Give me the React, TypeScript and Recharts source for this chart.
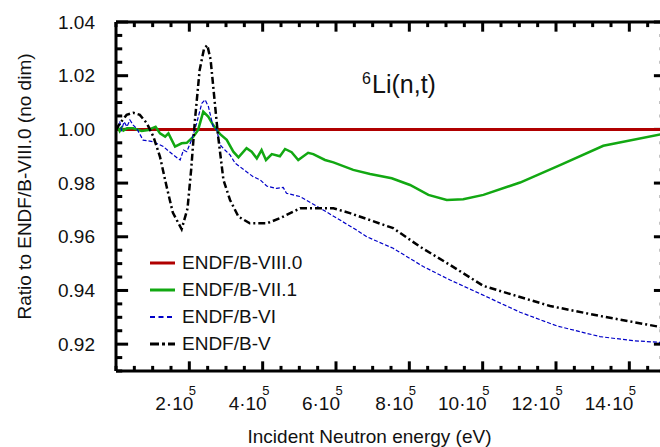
import React from 'react';
import { LineChart, Line, XAxis, YAxis, Legend, ReferenceLine } from 'recharts';

// energies in eV, ratios to ENDF/B-VIII.0
const energyB8 = [0, 250000, 500000, 1000000, 1500000];
const ratioB8 = [1.0, 1.0, 1.0, 1.0, 1.0];

const energyB71 = [
  0, 5000, 10000, 15000, 20000, 30000, 47000, 70000, 88000, 108000, 120000, 134000, 143000,
  161000, 179000, 193000, 211000, 224000, 238000, 252000, 265000, 284000, 302000, 320000,
  334000, 356000, 370000, 384000, 397000, 409000, 425000, 447000, 461000, 479000, 497000,
  524000, 538000, 570000, 593000, 647000, 693000, 752000, 802000, 852000, 902000, 947000,
  1002000, 1102000, 1211000, 1329000, 1500000,
];
const ratioB71 = [
  1.0, 1.0008, 0.9994, 1.0006, 0.9996, 1.0004, 1.0004, 0.9994, 0.9998, 1.001, 0.9985, 0.9973,
  0.9985, 0.9936, 0.9948, 0.995, 0.9973, 0.9998, 1.0066, 1.0047, 1.0016, 0.9982, 0.9961,
  0.9917, 0.9896, 0.993, 0.9917, 0.9892, 0.9923, 0.9886, 0.9908, 0.99, 0.9927, 0.9915,
  0.9886, 0.9913, 0.9908, 0.9886, 0.9877, 0.9849, 0.9834, 0.9818, 0.9793, 0.9756, 0.9737,
  0.974, 0.9756, 0.9802, 0.9867, 0.9939, 0.9985,
];

const energyB6 = [
  0, 5000, 10000, 15000, 22000, 30000, 38000, 47000, 56000, 74000, 102000, 129000, 156000,
  175000, 184000, 193000, 206000, 220000, 234000, 243000, 252000, 265000, 275000, 284000,
  297000, 311000, 325000, 338000, 356000, 374000, 393000, 411000, 438000, 456000, 465000,
  502000, 565000, 656000, 684000, 756000, 838000, 911000, 1010000, 1102000, 1202000,
  1320000, 1410000, 1500000,
];
const ratioB6 = [
  1.0023, 1.0005, 1.003, 0.9998, 1.0028, 1.001, 1.0035, 1.0016, 1.0004, 0.996, 0.9954,
  0.9936, 0.9905, 0.9886, 0.9923, 0.9917, 0.996, 1.0023, 1.0097, 1.011, 1.0085, 1.001,
  0.9998, 0.9942, 0.9923, 0.9905, 0.9874, 0.9861, 0.9842, 0.9824, 0.9812, 0.9789, 0.978,
  0.9784, 0.9762, 0.975, 0.97, 0.9625, 0.96, 0.9557, 0.9489, 0.9439, 0.9377, 0.9319, 0.9268,
  0.9228, 0.9213, 0.9205,
];

const energyB5 = [
  0, 11000, 29000, 47000, 65000, 84000, 102000, 120000, 138000, 155000, 179000, 195000,
  205000, 215000, 228000, 240000, 249000, 258000, 268000, 278000, 293000, 311000, 334000,
  365000, 411000, 447000, 475000, 502000, 593000, 638000, 756000, 829000, 911000, 1002000,
  1084000, 1184000, 1320000, 1500000,
];
const ratioB5 = [
  0.9998, 1.0023, 1.0054, 1.0062, 1.0054, 1.0023, 0.9973, 0.9898, 0.9787, 0.969, 0.9628,
  0.9705, 0.985, 1.003, 1.022, 1.03, 1.0314, 1.026, 1.012, 0.998, 0.9812, 0.9737, 0.9675,
  0.965, 0.965, 0.9669, 0.9688, 0.9706, 0.9706, 0.9688, 0.9632, 0.9563, 0.9495, 0.9417,
  0.9383, 0.9342, 0.9305, 0.926,
];

const xMajorTicks = [200000, 400000, 600000, 800000, 1000000, 1200000, 1400000];
const xTickLabels = ['2·10', '4·10', '6·10', '8·10', '10·10', '12·10', '14·10'];
const xTickExponent = '5';
const yMajorTicks = [0.92, 0.94, 0.96, 0.98, 1.0, 1.02, 1.04];
const yTickLabels = ['0.92', '0.94', '0.96', '0.98', '1.00', '1.02', '1.04'];

const X_DOMAIN: [number, number] = [0, 1500000];
const Y_DOMAIN: [number, number] = [0.91, 1.04];

const xMinorTicks = Array.from({ length: 31 }, (_, i) => i * 50000);
const yMinorTicks = Array.from({ length: 27 }, (_, i) => Math.round((0.91 + i * 0.005) * 1000) / 1000);

const toPoints = (es: number[], rs: number[]) => es.map((e, i) => ({ e, r: rs[i] }));

const series = [
  { name: 'ENDF/B-VIII.0', data: toPoints(energyB8, ratioB8), color: '#b00000', width: 3, dash: undefined, legendDash: undefined },
  { name: 'ENDF/B-VII.1', data: toPoints(energyB71, ratioB71), color: '#12a812', width: 2.5, dash: undefined, legendDash: undefined },
  { name: 'ENDF/B-VI', data: toPoints(energyB6, ratioB6), color: '#0000c8', width: 1.2, dash: '4 2', legendDash: '5 3.5' },
  { name: 'ENDF/B-V', data: toPoints(energyB5, ratioB5), color: '#000000', width: 2.5, dash: '7 3 2 3', legendDash: '9 3 3 3' },
];

const FONT = '"Liberation Sans", Arial, Helvetica, sans-serif';
const INK = '#111';
const AXIS_LINE = { stroke: '#000', strokeWidth: 3 };

// tick lengths, expressed in axis units (plot is ~550 x 349 px)
const X_TICK_MAJOR = 0.0036; // ~10px along y
const X_TICK_MINOR = 0.0019; // ~5px
const Y_TICK_MAJOR = 33000; // ~12px along x
const Y_TICK_MINOR = 17000; // ~6px

const isMajorX = (v: number) => xMajorTicks.includes(v);
const isMajorY = (v: number) => yMajorTicks.some((t) => Math.abs(t - v) < 1e-6);

const BottomTick = (props: any) => {
  const { x, y, payload } = props;
  const idx = xMajorTicks.indexOf(payload.value);
  if (idx < 0) return <g />;
  return (
    <g fontFamily={FONT} fill={INK}>
      <text x={x + 4} y={y + 39} textAnchor="end" fontSize={19}>{xTickLabels[idx]}</text>
      <text x={x - 0.5} y={y + 24} fontSize={13}>{xTickExponent}</text>
    </g>
  );
};

const LeftTick = (props: any) => {
  const { x, y, payload } = props;
  const idx = yMajorTicks.findIndex((t) => Math.abs(t - payload.value) < 1e-6);
  if (idx < 0) return <g />;
  return (
    <text x={x - 21} y={y + 6.5} textAnchor="end" fontSize={19} fontFamily={FONT} fill={INK}>
      {yTickLabels[idx]}
    </text>
  );
};

const renderLegend = () => (
  <div style={{ fontFamily: FONT, fontSize: 19, color: INK }}>
    {series.map((s) => (
      <div key={s.name} style={{ display: 'flex', alignItems: 'center', height: 27 }}>
        <svg width={25} height={6}>
          <line x1={0} x2={25} y1={3} y2={3} stroke={s.color} strokeWidth={s.width < 2 ? 2 : 3} strokeDasharray={s.legendDash} />
        </svg>
        <span style={{ marginLeft: 7 }}>{s.name}</span>
      </div>
    ))}
  </div>
);

const axisCommon = {
  type: 'number' as const,
  interval: 0 as const,
  allowDataOverflow: true,
  tickSize: 0,
  tickMargin: 0,
  tickLine: false,
  axisLine: AXIS_LINE,
};

const tickMark = { stroke: '#000', strokeWidth: 3, ifOverflow: 'visible' as const };

export default function App() {
  return (
    <div style={{ position: 'fixed', left: 0, top: 0, width: 660, height: 447, overflow: 'hidden', background: '#fff' }}>
      <LineChart width={670} height={447} margin={{ top: 21, right: 3, bottom: 75, left: 115 }}>
        <XAxis {...axisCommon} xAxisId={0} dataKey="e" domain={X_DOMAIN} ticks={xMinorTicks} height={1} tick={<BottomTick />} />
        <XAxis {...axisCommon} xAxisId="top" orientation="top" domain={X_DOMAIN} ticks={xMinorTicks} height={1} tick={false} />
        <YAxis {...axisCommon} yAxisId={0} domain={Y_DOMAIN} ticks={yMinorTicks} width={1} tick={<LeftTick />} />
        <YAxis {...axisCommon} yAxisId="right" orientation="right" domain={Y_DOMAIN} ticks={yMinorTicks} width={1} tick={false} />
        {xMinorTicks.map((v) => {
          const len = isMajorX(v) ? X_TICK_MAJOR : X_TICK_MINOR;
          return [
            <ReferenceLine key={`b${v}`} {...tickMark} segment={[{ x: v, y: Y_DOMAIN[0] }, { x: v, y: Y_DOMAIN[0] + len }]} />,
            <ReferenceLine key={`t${v}`} {...tickMark} segment={[{ x: v, y: Y_DOMAIN[1] }, { x: v, y: Y_DOMAIN[1] - len }]} />,
          ];
        })}
        {yMinorTicks.map((v) => {
          const len = isMajorY(v) ? Y_TICK_MAJOR : Y_TICK_MINOR;
          return [
            <ReferenceLine key={`l${v}`} {...tickMark} segment={[{ x: X_DOMAIN[0], y: v }, { x: X_DOMAIN[0] + len, y: v }]} />,
            <ReferenceLine key={`r${v}`} {...tickMark} segment={[{ x: X_DOMAIN[1], y: v }, { x: X_DOMAIN[1] - len, y: v }]} />,
          ];
        })}
        {series.map((s) => (
          <Line
            key={s.name}
            data={s.data}
            dataKey="r"
            name={s.name}
            type="linear"
            stroke={s.color}
            strokeWidth={s.width}
            strokeDasharray={s.dash}
            dot={false}
            activeDot={false}
            isAnimationActive={false}
          />
        ))}
        <Legend
          layout="vertical"
          align="center"
          verticalAlign="middle"
          content={renderLegend}
          wrapperStyle={{ left: 150, top: 249.5, width: 220 }}
        />
        <text x={362} y={83.5} fontSize={16} fontFamily={FONT} fill={INK}>6</text>
        <text x={372} y={93} fontSize={25} fontFamily={FONT} fill={INK}>Li(n,t)</text>
        <text x={369.5} y={443} textAnchor="middle" fontSize={19} fontFamily={FONT} fill={INK}>
          Incident Neutron energy (eV)
        </text>
        <text
          x={30.5}
          y={186.5}
          textAnchor="middle"
          fontSize={19}
          fontFamily={FONT}
          fill={INK}
          transform="rotate(-90 30.5 186.5)"
        >
          Ratio to ENDF/B-VIII.0 (no dim)
        </text>
      </LineChart>
    </div>
  );
}
